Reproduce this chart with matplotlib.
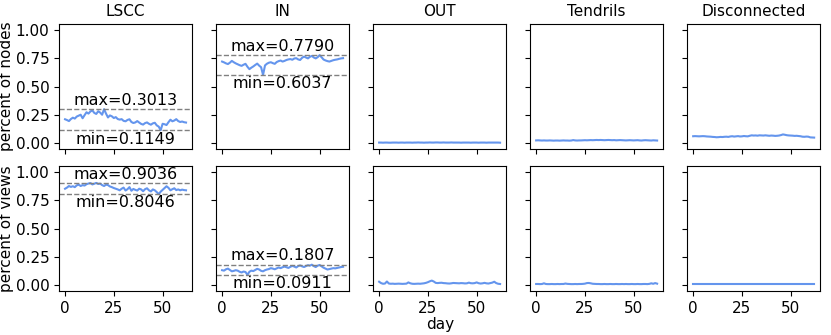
import matplotlib
matplotlib.use("Agg")
import matplotlib.pyplot as plt
import matplotlib.transforms as mtransforms
import numpy as np

# component names and row labels
components = ["LSCC", "IN", "OUT", "Tendrils", "Disconnected"]
row_labels = ["percent of nodes", "percent of views"]
days = np.arange(63)

# share of nodes per component, day 0..62
lscc_nodes = [0.212, 0.205, 0.196, 0.214, 0.226, 0.218, 0.236, 0.244, 0.252, 0.221,
              0.248, 0.274, 0.262, 0.281, 0.290, 0.268, 0.259, 0.283, 0.271, 0.252,
              0.3013, 0.262, 0.228, 0.246, 0.238, 0.223, 0.231, 0.214, 0.209, 0.213,
              0.198, 0.194, 0.206, 0.212, 0.188, 0.179, 0.184, 0.196, 0.183, 0.171,
              0.165, 0.178, 0.184, 0.172, 0.164, 0.176, 0.181, 0.158, 0.147, 0.1149,
              0.172, 0.168, 0.161, 0.186, 0.208, 0.194, 0.201, 0.213, 0.196, 0.188,
              0.192, 0.186, 0.183]
in_nodes = [0.722, 0.715, 0.706, 0.700, 0.712, 0.728, 0.716, 0.706, 0.698, 0.690,
            0.684, 0.694, 0.702, 0.676, 0.655, 0.668, 0.679, 0.692, 0.704, 0.686,
            0.672, 0.6037, 0.688, 0.703, 0.712, 0.716, 0.708, 0.702, 0.718, 0.726,
            0.731, 0.722, 0.728, 0.736, 0.741, 0.744, 0.738, 0.749, 0.752, 0.741,
            0.736, 0.755, 0.766, 0.758, 0.750, 0.764, 0.772, 0.758, 0.750, 0.761,
            0.7790, 0.760, 0.740, 0.732, 0.726, 0.722, 0.728, 0.734, 0.738, 0.741,
            0.746, 0.750, 0.752]
out_nodes = [0.006, 0.006, 0.005, 0.006, 0.006, 0.005, 0.005, 0.006, 0.006, 0.006,
             0.005, 0.006, 0.006, 0.005, 0.006, 0.006, 0.006, 0.005, 0.006, 0.006,
             0.007, 0.006, 0.006, 0.005, 0.006, 0.006, 0.007, 0.006, 0.006, 0.007,
             0.007, 0.006, 0.006, 0.007, 0.006, 0.006, 0.006, 0.007, 0.006, 0.006,
             0.006, 0.006, 0.005, 0.006, 0.006, 0.006, 0.006, 0.005, 0.006, 0.006,
             0.006, 0.005, 0.006, 0.006, 0.006, 0.005, 0.006, 0.006, 0.006, 0.006,
             0.006, 0.006, 0.005]
tendrils_nodes = [0.025, 0.026, 0.025, 0.024, 0.025, 0.024, 0.024, 0.025, 0.024, 0.023,
                  0.024, 0.024, 0.023, 0.024, 0.025, 0.024, 0.024, 0.023, 0.024, 0.028,
                  0.025, 0.024, 0.025, 0.025, 0.026, 0.027, 0.026, 0.027, 0.028, 0.027,
                  0.028, 0.029, 0.028, 0.029, 0.028, 0.027, 0.028, 0.029, 0.028, 0.027,
                  0.028, 0.026, 0.027, 0.028, 0.027, 0.026, 0.025, 0.026, 0.027, 0.026,
                  0.025, 0.026, 0.027, 0.025, 0.024, 0.026, 0.027, 0.026, 0.025, 0.024,
                  0.026, 0.025, 0.024]
disc_nodes = [0.062, 0.063, 0.062, 0.061, 0.062, 0.063, 0.062, 0.060, 0.059, 0.058,
              0.056, 0.055, 0.053, 0.054, 0.056, 0.055, 0.057, 0.058, 0.056, 0.060,
              0.062, 0.059, 0.061, 0.063, 0.060, 0.061, 0.064, 0.062, 0.061, 0.066,
              0.070, 0.068, 0.069, 0.067, 0.070, 0.069, 0.068, 0.070, 0.068, 0.066,
              0.068, 0.067, 0.065, 0.066, 0.068, 0.072, 0.078, 0.075, 0.071, 0.069,
              0.068, 0.067, 0.065, 0.066, 0.064, 0.062, 0.058, 0.057, 0.059, 0.058,
              0.052, 0.051, 0.050]

# share of views per component, day 0..62
lscc_views = [0.852, 0.862, 0.876, 0.868, 0.874, 0.866, 0.882, 0.888, 0.876, 0.884,
              0.880, 0.892, 0.898, 0.902, 0.890, 0.896, 0.9036, 0.894, 0.897, 0.884,
              0.876, 0.888, 0.884, 0.872, 0.866, 0.858, 0.852, 0.846, 0.838, 0.852,
              0.862, 0.836, 0.848, 0.866, 0.834, 0.850, 0.842, 0.836, 0.852, 0.846,
              0.830, 0.848, 0.856, 0.838, 0.828, 0.846, 0.838, 0.822, 0.8046, 0.826,
              0.842, 0.858, 0.874, 0.860, 0.838, 0.848, 0.856, 0.840, 0.846, 0.838,
              0.844, 0.840, 0.838]
in_views = [0.132, 0.128, 0.140, 0.146, 0.134, 0.122, 0.126, 0.132, 0.128, 0.118,
            0.112, 0.120, 0.116, 0.0911, 0.118, 0.128, 0.124, 0.134, 0.144, 0.138,
            0.126, 0.122, 0.132, 0.138, 0.142, 0.150, 0.146, 0.140, 0.148, 0.156,
            0.150, 0.158, 0.164, 0.158, 0.152, 0.162, 0.170, 0.164, 0.156, 0.168,
            0.174, 0.166, 0.160, 0.168, 0.176, 0.172, 0.1807, 0.168, 0.160, 0.172,
            0.178, 0.166, 0.154, 0.146, 0.138, 0.142, 0.146, 0.150, 0.148, 0.152,
            0.156, 0.160, 0.162]
out_views = [0.030, 0.018, 0.012, 0.014, 0.032, 0.014, 0.012, 0.013, 0.011, 0.012,
             0.013, 0.012, 0.011, 0.012, 0.013, 0.024, 0.016, 0.012, 0.011, 0.012,
             0.013, 0.012, 0.014, 0.016, 0.020, 0.026, 0.034, 0.040, 0.032, 0.020,
             0.018, 0.020, 0.021, 0.018, 0.017, 0.015, 0.014, 0.016, 0.019, 0.018,
             0.017, 0.016, 0.018, 0.017, 0.015, 0.016, 0.022, 0.017, 0.016, 0.018,
             0.024, 0.017, 0.014, 0.016, 0.020, 0.016, 0.014, 0.018, 0.022, 0.030,
             0.018, 0.012, 0.010]
tendrils_views = [0.010, 0.010, 0.009, 0.010, 0.016, 0.010, 0.009, 0.009, 0.010, 0.009,
                  0.009, 0.010, 0.009, 0.010, 0.010, 0.014, 0.011, 0.010, 0.009, 0.009,
                  0.010, 0.009, 0.010, 0.010, 0.011, 0.013, 0.018, 0.019, 0.016, 0.012,
                  0.011, 0.010, 0.010, 0.009, 0.009, 0.010, 0.009, 0.009, 0.010, 0.009,
                  0.009, 0.010, 0.009, 0.009, 0.010, 0.009, 0.010, 0.009, 0.009, 0.010,
                  0.009, 0.009, 0.010, 0.009, 0.009, 0.010, 0.010, 0.009, 0.011, 0.016,
                  0.012, 0.018, 0.013]
disc_views = [0.007] * 63

nodes = [lscc_nodes, in_nodes, out_nodes, tendrils_nodes, disc_nodes]
views = [lscc_views, in_views, out_views, tendrils_views, disc_views]
# panels that get the max/min guide lines
annotated = ["LSCC", "IN"]

plt.rcParams['font.size'] = 11

fig, axes = plt.subplots(2, 5, figsize=(8.31, 3.35), dpi=100, sharex=True, sharey=True)
fig.subplots_adjust(left=0.071, right=0.987, top=0.927, bottom=0.132,
                    wspace=0.18, hspace=0.14)

for r, rows in enumerate([nodes, views]):
    for c, series in enumerate(rows):
        ax = axes[r, c]
        y = np.array(series)
        ax.plot(days, y, color='cornflowerblue', linewidth=1.5)
        if components[c] in annotated:
            trans = mtransforms.blended_transform_factory(ax.transAxes, ax.transData)
            ymax, ymin = y.max(), y.min()
            ax.axhline(ymax, color='grey', linestyle='--', linewidth=1)
            ax.axhline(ymin, color='grey', linestyle='--', linewidth=1)
            ax.text(0.5, ymax + 0.012, "max=%.4f" % ymax, transform=trans,
                    ha='center', va='bottom', fontsize=11.5)
            ax.text(0.5, ymin - 0.012, "min=%.4f" % ymin, transform=trans,
                    ha='center', va='top', fontsize=11.5)
        if r == 0:
            ax.set_title(components[c], fontsize=11)
    axes[r, 0].set_ylabel(row_labels[r], labelpad=1)

axes[0, 0].set_ylim(-0.05, 1.05)
axes[0, 0].set_yticks([0, 0.25, 0.5, 0.75, 1.0])
axes[0, 0].set_yticklabels(["0.00", "0.25", "0.50", "0.75", "1.00"])
axes[0, 0].set_xticks([0, 25, 50])
fig.text(0.53, 0.01, "day", ha='center', va='bottom', fontsize=11)

fig.savefig("out.png", dpi=100)
